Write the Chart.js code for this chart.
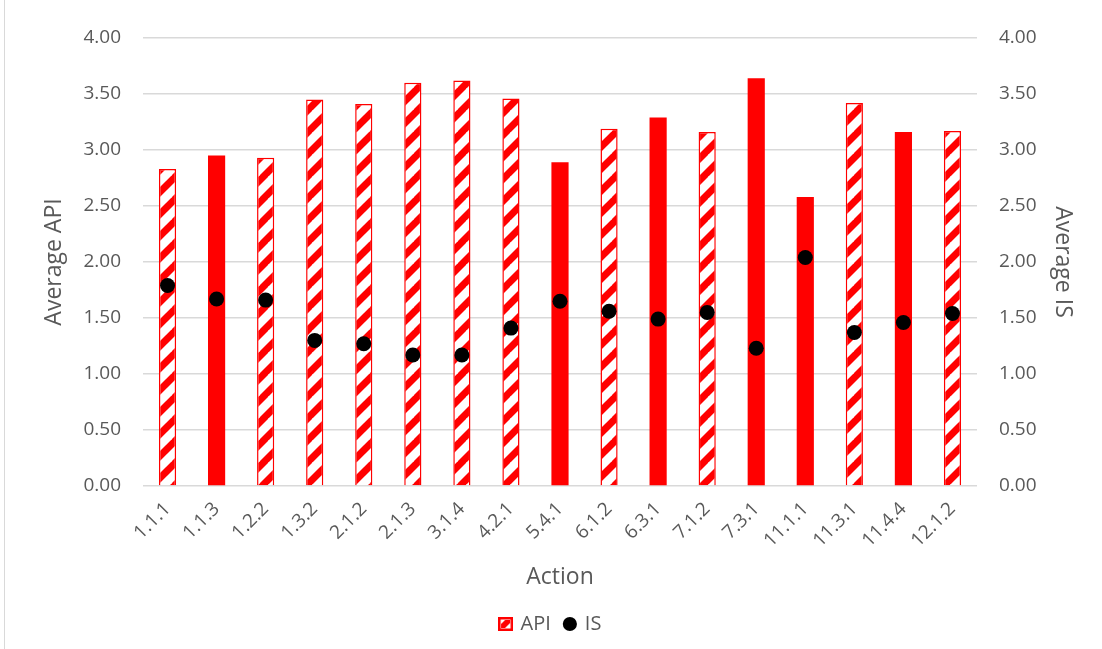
<!DOCTYPE html>
<html>
<head>
<meta charset="utf-8">
<script src="https://cdn.jsdelivr.net/npm/chart.js@4.4.1/dist/chart.umd.min.js"></script>
<style>
  html, body { margin: 0; padding: 0; background: #fff; }
  #wrap { position: relative; width: 1102px; height: 649px; }
  #frame { position: absolute; left: 4px; top: 0; width: 1px; height: 649px; background: #d9d9d9; }
</style>
</head>
<body>
<div id="wrap">
  <canvas id="chart" width="1102" height="649"></canvas>
  <div id="frame"></div>
</div>
<script>
const actions = ["1.1.1", "1.1.3", "1.2.2", "1.3.2", "2.1.2", "2.1.3", "3.1.4", "4.2.1", "5.4.1",
                 "6.1.2", "6.3.1", "7.1.2", "7.3.1", "11.1.1", "11.3.1", "11.4.4", "12.1.2"];
const apiValues = [2.83, 2.95, 2.93, 3.45, 3.41, 3.60, 3.62, 3.46, 2.89,
                   3.19, 3.29, 3.16, 3.64, 2.58, 3.42, 3.16, 3.17];
const isValues = [1.79, 1.67, 1.66, 1.30, 1.27, 1.17, 1.17, 1.41, 1.65,
                  1.56, 1.49, 1.55, 1.23, 2.04, 1.37, 1.46, 1.54];
// which bars are drawn solid instead of hatched
const solidBar = [false, true, false, false, false, false, false, false, true,
                  false, true, false, true, true, false, true, false];

const RED = "#ff0000";
const GREY = "#595959";
const FONT = "'Open Sans', 'DejaVu Sans', sans-serif";

let canvas = document.getElementById("chart");
let ctx = canvas.getContext("2d");

// diagonal hatch tile, red stripes on white
function makeTile() {
    let s = 22;
    let tile = document.createElement("canvas");
    tile.width = s;
    tile.height = s;
    let t = tile.getContext("2d");
    t.fillStyle = "#fff";
    t.fillRect(0, 0, s, s);
    t.strokeStyle = RED;
    t.lineWidth = 7;
    for (let k = -1; k <= 1; k++) {
        t.beginPath();
        t.moveTo(k * s - 2, s + 2);
        t.lineTo(k * s + s + 2, -2);
        t.stroke();
    }
    return tile;
}
let hatch = ctx.createPattern(makeTile(), "repeat");

// small legend icon for the hatched series
function makeLegendIcon() {
    let icon = document.createElement("canvas");
    icon.width = 15;
    icon.height = 14;
    let c = icon.getContext("2d");
    c.fillStyle = "#fff";
    c.fillRect(0, 0, 15, 14);
    c.fillStyle = RED;
    c.beginPath();
    c.moveTo(3, 11); c.lineTo(3, 7); c.lineTo(7, 3); c.lineTo(12, 3);
    c.lineTo(12, 6); c.lineTo(7, 11); c.closePath();
    c.fill();
    c.strokeStyle = RED;
    c.lineWidth = 2.5;
    c.strokeRect(1.25, 1.25, 12.5, 11.5);
    return icon;
}
let apiIcon = makeLegendIcon();

new Chart(ctx, {
    type: "bar",
    data: {
        labels: actions,
        datasets: [
            {
                label: "API",
                data: apiValues,
                yAxisID: "y",
                order: 1,
                backgroundColor: c => solidBar[c.dataIndex] ? RED : hatch,
                borderColor: RED,
                borderWidth: c => solidBar[c.dataIndex] ? 0 : 1.5,
                barPercentage: 0.35,
                categoryPercentage: 1.0
            },
            {
                label: "IS",
                type: "line",
                data: isValues,
                yAxisID: "y1",
                order: 0,
                showLine: false,
                pointRadius: 7.5,
                pointHoverRadius: 7.5,
                pointBackgroundColor: "#000",
                pointBorderWidth: 0,
                borderColor: "#000",
                backgroundColor: "#000"
            }
        ]
    },
    options: {
        responsive: false,
        animation: false,
        layout: { padding: { top: 38, left: 0, right: 0, bottom: 5 } },
        plugins: {
            tooltip: { enabled: false },
            legend: {
                position: "bottom",
                labels: {
                    usePointStyle: true,
                    boxWidth: 10,
                    boxHeight: 10,
                    padding: 14,
                    color: GREY,
                    font: { family: FONT, size: 20 },
                    generateLabels: () => [
                        { text: "API", fillStyle: hatch, strokeStyle: RED, lineWidth: 0,
                          pointStyle: apiIcon, datasetIndex: 0, fontColor: GREY },
                        { text: "IS", fillStyle: "#000", strokeStyle: "#000", lineWidth: 0,
                          pointStyle: "circle", datasetIndex: 1, fontColor: GREY }
                    ]
                }
            }
        },
        scales: {
            x: {
                grid: { display: false },
                border: { display: false },
                ticks: {
                    color: GREY,
                    font: { family: FONT, size: 19 },
                    minRotation: 45,
                    maxRotation: 45,
                    padding: 4
                },
                title: {
                    display: true,
                    text: "Action",
                    color: GREY,
                    font: { family: FONT, size: 23 },
                    padding: { top: 0, bottom: 9 }
                },
                afterFit: s => { s.height = 114; }
            },
            y: {
                position: "left",
                min: 0,
                max: 4,
                grid: { color: "#d9d9d9", lineWidth: 1.5, drawTicks: false },
                border: { display: false },
                ticks: {
                    stepSize: 0.5,
                    color: GREY,
                    padding: 22,
                    font: { family: FONT, size: 19 },
                    callback: v => v.toFixed(2)
                },
                title: {
                    display: true,
                    text: "Average API",
                    color: GREY,
                    font: { family: FONT, size: 23 },
                    padding: { top: 41, bottom: 0 }
                },
                afterFit: s => { s.width = 143; }
            },
            y1: {
                position: "right",
                min: 0,
                max: 4,
                grid: { display: false, drawTicks: false },
                border: { display: false },
                ticks: {
                    stepSize: 0.5,
                    color: GREY,
                    padding: 22,
                    font: { family: FONT, size: 19 },
                    callback: v => v.toFixed(2)
                },
                title: {
                    display: true,
                    text: "Average IS",
                    color: GREY,
                    font: { family: FONT, size: 23 },
                    padding: { top: 26, bottom: 0 }
                },
                afterFit: s => { s.width = 125; }
            }
        }
    }
});
</script>
</body>
</html>
